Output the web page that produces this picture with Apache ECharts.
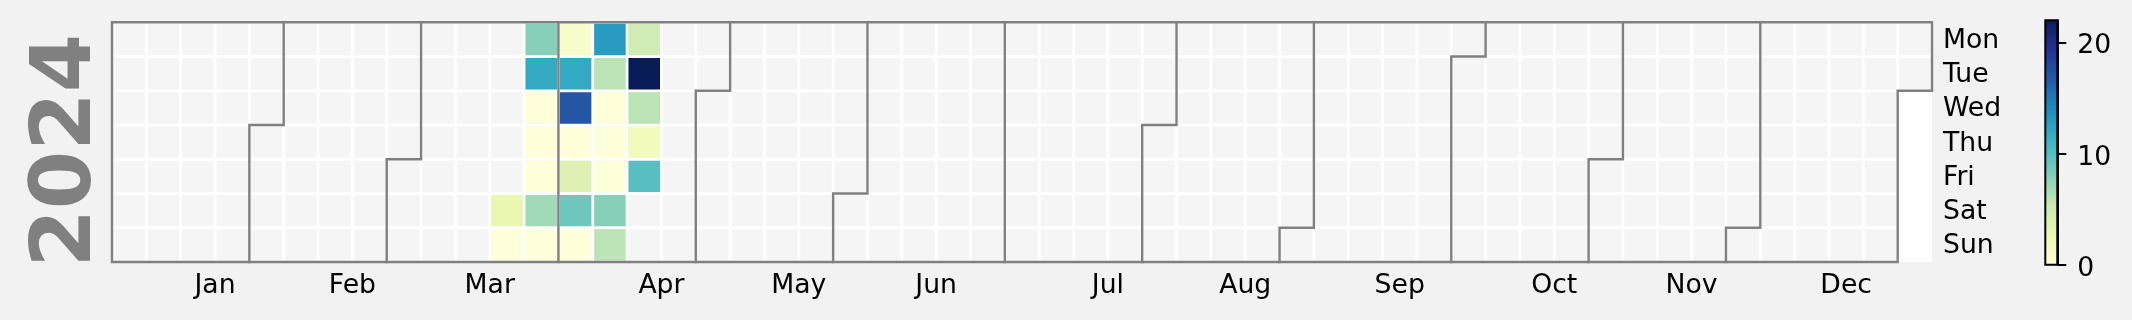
<!DOCTYPE html>
<html><head><meta charset="utf-8">
<script src="https://cdn.jsdelivr.net/npm/echarts@6/dist/echarts.min.js"></script>
<style>html,body{margin:0;padding:0;background:#f2f2f2;}#chart{width:2132px;height:320px;}</style>
</head><body><div id="chart"></div>
<script>
// ---- data ----
const year = 2024;
const monthNames = ['Jan','Feb','Mar','Apr','May','Jun','Jul','Aug','Sep','Oct','Nov','Dec'];
const dayNames = ['Mon','Tue','Wed','Thu','Fri','Sat','Sun'];
const dates = ['2024-03-23','2024-03-24','2024-03-25','2024-03-26','2024-03-27','2024-03-28','2024-03-29',
  '2024-03-30','2024-03-31','2024-04-01','2024-04-02','2024-04-03','2024-04-04','2024-04-05',
  '2024-04-06','2024-04-07','2024-04-08','2024-04-09','2024-04-10','2024-04-11','2024-04-12',
  '2024-04-13','2024-04-14','2024-04-15','2024-04-16','2024-04-17','2024-04-18','2024-04-19'];
const values = [3,0,8,12,0,0,0,
  7,0,1,12,17,0,4,
  9,0,13,6,0,0,0,
  8,6,5,22,6,2,10];
const colorbarTicks = [0,10,20];
const colorMax = 22;
const ylgnbu = ['#ffffd9','#edf8b1','#c7e9b4','#7fcdbb','#41b6c4','#1d91c0','#225ea8','#253494','#081d58'];

// ---- calendar helpers ----
const DAY = 86400000;
const jan1 = Date.UTC(year,0,1);
const jan1Dow = (new Date(jan1).getUTCDay()+6)%7;
function posOf(t){ const n = Math.round((t-jan1)/DAY)+jan1Dow; return [Math.floor(n/7), n%7]; }
function pos(y,m,d){ return posOf(Date.UTC(y,m,d)); }
function parse(s){ const p=s.split('-').map(Number); return Date.UTC(p[0],p[1]-1,p[2]); }

const bgCells = [];
for(let t=jan1; t<Date.UTC(year+1,0,1); t+=DAY){ bgCells.push(posOf(t)); }
const dataCells = dates.map((d,i)=>{ const p=posOf(parse(d)); return [p[0],p[1],values[i]]; });

const borders = [];
for(let m=1;m<12;m++){
  const [c,r]=pos(year,m,1);
  borders.push(r===0 ? [[c,0],[c,7]] : [[c+1,0],[c+1,r],[c,r],[c,7]]);
}
const [c0,r0]=pos(year,0,1), [c1,r1]=pos(year,11,31);
borders.push([[c0,7],[c0,r0],[c0+1,r0],[c0+1,0],[c1+1,0],[c1+1,r1+1],[c1,r1+1],[c1,7],[c0,7]]);
const monthPos = monthNames.map((n,m)=>{
  const cf=pos(year,m,1)[0], cl=pos(year,m+1,0)[0];
  return (cf+cl)/2+1;
});

const GAP = 2.8;
function cellRect(api, fill){
  const x=api.value(0), y=api.value(1);
  const p0=api.coord([x,y]), p1=api.coord([x+1,y+1]);
  const g=GAP/2;
  return {type:'rect', shape:{x:p0[0]+g, y:p0[1]+g, width:p1[0]-p0[0]-GAP, height:p1[1]-p0[1]-GAP}, style:{fill:fill}};
}

const FONT = 'DejaVu Sans';
const FS = 26.67;
const chart = echarts.init(document.getElementById('chart'), null, {renderer:'canvas'});
const series = [
  {type:'custom', xAxisIndex:0, yAxisIndex:0, data:bgCells, encode:{x:0,y:1}, silent:true, z:1,
   renderItem:(p,api)=>cellRect(api,'#f5f5f5')},
  {type:'custom', xAxisIndex:0, yAxisIndex:0, data:dataCells, encode:{x:0,y:1}, silent:true, z:2,
   renderItem:(p,api)=>cellRect(api, api.visual('color'))},
];
borders.forEach(b=>series.push({type:'line', xAxisIndex:0, yAxisIndex:0, data:b, symbol:'none', clip:false, silent:true, z:5,
  lineStyle:{color:'#808080', width:2.4, cap:'square', join:'miter'}}));
series.push({type:'custom', xAxisIndex:1, yAxisIndex:1, data:[[0,colorMax]], silent:true, clip:false, z:2,
  renderItem:(p,api)=>{
    const a=api.coord([0,0]), b=api.coord([1,api.value(1)]);
    return {type:'rect', shape:{x:a[0], y:b[1], width:b[0]-a[0], height:a[1]-b[1]},
      style:{fill:{type:'linear',x:0,y:0,x2:0,y2:1,colorStops:ylgnbu.slice().reverse().map((c,i)=>({offset:i/8,color:c}))},
             stroke:'#000', lineWidth:2}};
  }});

chart.setOption({
  animation:false,
  backgroundColor:'#f2f2f2',
  textStyle:{fontFamily:FONT},
  grid:[
    {left:112, top:22.3, width:1820, height:239.7, show:true, backgroundColor:'#ffffff', borderWidth:0},
    {left:2045.3, top:20.3, width:12, height:244.4, show:false}
  ],
  xAxis:[
    {gridIndex:0, type:'value', min:0, max:53, axisLine:{show:false, onZero:false}, axisTick:{show:false}, splitLine:{show:false},
     axisLabel:{customValues:monthPos, color:'#000', fontSize:FS, fontFamily:FONT, margin:10.5,
       formatter:v=>{ const i=monthPos.findIndex(q=>Math.abs(q-v)<1e-6); return i>=0?monthNames[i]:''; }}},
    {gridIndex:1, type:'value', min:0, max:1, show:false, axisLine:{onZero:false}}
  ],
  yAxis:[
    {gridIndex:0, type:'value', min:0, max:7, inverse:true, position:'right', axisLine:{show:false, onZero:false}, axisTick:{show:false}, splitLine:{show:false},
     axisLabel:{customValues:dayNames.map((d,i)=>i+0.5), color:'#000', fontSize:FS, fontFamily:FONT, margin:11, verticalAlign:'top', lineHeight:3,
       formatter:v=>dayNames[Math.floor(v)]}},
    {gridIndex:1, type:'value', min:0, max:colorMax, position:'right', splitLine:{show:false}, z:10,
     axisLine:{show:true, onZero:false, lineStyle:{color:'#000', width:2}},
     axisTick:{show:true, customValues:colorbarTicks, length:9, lineStyle:{color:'#000', width:2}},
     axisLabel:{customValues:colorbarTicks, color:'#000', fontSize:FS, fontFamily:FONT, margin:20, verticalAlign:'top', lineHeight:8}}
  ],
  visualMap:{type:'continuous', show:false, min:0, max:colorMax, seriesIndex:1, dimension:2, inRange:{color:ylgnbu}},
  graphic:[{type:'text', x:68, y:150.7, rotation:Math.PI/2, silent:true,
    style:{text:String(year), fill:'#808080', font:'bold 84px "DejaVu Sans"', align:'center', verticalAlign:'middle', textAlign:'center', textVerticalAlign:'middle'}}],
  series:series
});
</script></body></html>
